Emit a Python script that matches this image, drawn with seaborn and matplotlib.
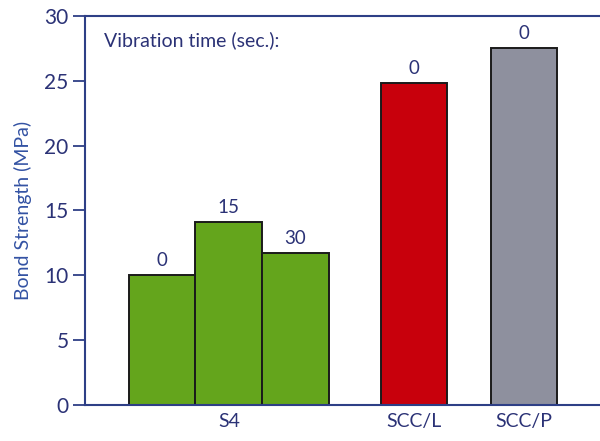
import pandas as pd
import matplotlib.pyplot as plt
import seaborn as sns

# values
groups = ["S4", "S4", "S4", "SCC/L", "SCC/P"]
vib_time = ["0", "15", "30", "0", "0"]
strength = [10.0, 14.1, 11.7, 24.8, 27.5]
group_labels = ["S4", "SCC/L", "SCC/P"]
colors = {"S4": "#64A51C", "SCC/L": "#C8000C", "SCC/P": "#8E909E"}

# layout: bar centres in units of one bar width
xpos = [0, 1, 2, 3.78, 5.43]
label_pos = [1, 3.78, 5.43]

navy = "#2B3276"
axis_blue = "#2E3F86"

sns.set_theme(style="white")
plt.rcParams['font.family'] = ['Lato', 'DejaVu Sans']

df = pd.DataFrame({"x": xpos, "strength": strength, "group": groups, "vib": vib_time})

fig = plt.figure(figsize=(6, 4.41), dpi=100)
ax = fig.add_axes([0.142, 0.082, 0.858, 0.882])

sns.barplot(data=df, x="x", y="strength", hue="group", palette=colors,
            native_scale=True, width=1.0, saturation=1, edgecolor="#1a1a1a",
            linewidth=1.4, legend=False, ax=ax)

for x, y, t in zip(xpos, strength, vib_time):
    ax.text(x, y + 0.45, t, ha="center", va="bottom", fontsize=13.5, color=navy)

ax.text(-0.88, 28.1, "Vibration time (sec.):", fontsize=14, color=navy, va="center")

ax.set_xlim(-1.155, 6.57)
ax.set_ylim(0, 30)
ax.set_yticks(range(0, 31, 5))
ax.set_xticks(label_pos)
ax.set_xticklabels(group_labels)
ax.set_xlabel("")
ax.set_ylabel("Bond Strength (MPa)", fontsize=14, color="#3352A3", labelpad=9)

ax.tick_params(axis="y", direction="out", length=9, width=1.3, color=axis_blue,
               labelsize=15, labelcolor=navy, left=True, pad=3)
ax.tick_params(axis="x", length=0, labelsize=14, labelcolor=navy, pad=6)

for side in ["left", "top", "bottom"]:
    ax.spines[side].set_color(axis_blue)
    ax.spines[side].set_linewidth(1.5)
ax.spines["right"].set_visible(False)

fig.savefig("out.png", dpi=100)
